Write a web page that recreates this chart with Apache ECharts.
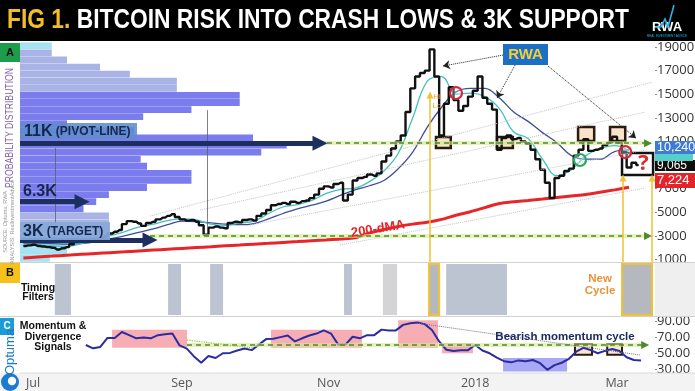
<!DOCTYPE html>
<html><head><meta charset="utf-8">
<script src="https://cdn.jsdelivr.net/npm/echarts@6/dist/echarts.min.js"></script>
<style>html,body{margin:0;padding:0;background:#fff;}#c{width:695px;height:391px;}</style>
</head><body><div id="c"></div>
<script>
// ================= DATA =================
// Bitcoin price (closes, one value every 2 days)
const priceStart = '2017-06-27';
const priceStepDays = 2;
const priceValues = [
  2150,2200,2250,2150,2100,2050,2000,1850,1950,2050,
  2300,2600,2700,2650,2700,2750,2850,3000,3200,3350,
  3500,4000,4250,4200,4050,3850,4100,4200,4400,4550,
  4700,4850,4600,4400,4300,4350,4200,3900,3100,3700,
  3800,3700,3650,4100,4200,4150,4350,4400,4300,4700,
  4900,5200,5600,5700,5800,5700,5900,5800,5950,6000,
  6200,6500,7000,7200,7100,7400,7500,6000,6500,7700,
  7900,8000,8200,8100,8300,9300,9800,10400,11000,11500,
  13500,15500,16500,16800,17000,18800,16500,11500,14200,15600,
  14500,13600,14000,14800,15300,16500,14700,14200,13700,10300,
  11300,11500,11200,11300,11000,10800,10300,9500,8600,7500,
  6200,7900,8100,8500,8700,9800,10300,11200,10200,10300,
  10400,10700,10900,11400,10900,10100,8800,9200,9000
];
// Moving averages (one value every 6 days)
const maStart = '2017-06-27';
const maStepDays = 6;
const maFastValues = [
  2200,2250,2150,2100,2350,2650,3000,3350,3750,4000,
  4300,4450,4350,4000,3900,4100,4250,4900,5450,5650,
  6000,6600,6950,7050,7600,8500,10000,13000,16100,16500,
  15000,15100,14800,13800,11800,11250,9500,8100,8600,9800,
  10400,10650,10200
];
const maSlowValues = [
  2400,2400,2350,2300,2350,2500,2750,3000,3300,3600,
  3950,4250,4200,4100,4000,3950,4050,4450,4900,5300,
  5600,5950,6450,6900,7250,7700,8700,10100,12200,13900,
  15200,15500,15500,14700,13500,12700,11750,10900,9800,9500,
  9500,10150,10280
];
const ma200Values = [
  1130,1220,1290,1370,1440,1510,1580,1650,1730,1800,
  1870,1940,2010,2080,2160,2230,2300,2370,2450,2520,
  2590,2660,2740,2850,3250,3550,3800,4000,4150,4400,
  4750,5050,5400,5750,5900,6000,6120,6250,6380,6500,
  6700,6900,7120
];
// Momentum (one value every 3 days)
const momStart = '2017-07-23';
const momStepDays = 3;
const momValues = [
  60.5,56.3,58,69.5,69.5,77,73,69,70,69,
  73,74,75,60,56,46,38,46.5,44,50,
  50.5,53.5,56,54,61,68,68.5,70.5,72.5,65,
  69,72.5,75,79,75,61,61,71,69,73,
  73,80,79,79,86,88,89,87,79.5,65,
  54.5,53,54,54,60.5,53.5,50,44.5,40,38.5,
  41,40,41.5,37.5,29,35,38,43,52,57,
  54,50,53,55.5,53,45,41.5,41
];
// Probability distribution (price profile), bins of 600 from 800
const profileBinStart = 800;
const profileBinSize = 600;
const profileLengths = [
  4.7,7.4,7.4,14,14,14,14,10,12,14,
  20,27,27,20,19,38,42,36.7,18,7.4,
  19.4,27,34.6,34.6,24.7,24.7,17.3,12.6,7.4,5,5
];
// Axis ticks
const priceTicks = [1000,3000,5000,7000,9000,11000,13000,15000,17000,19000];
const momTicks = [30,50,70,90];
const monthTickDates = ['2017-07-01','2017-09-01','2017-11-01','2018-01-01','2018-03-01'];
const monthTickLabels = ['Jul','Sep','Nov','2018','Mar'];
// Levels
const pivotLevel = 10850, targetLevel = 3000, momPivot = 60.5;
const tagLabels = ['10,240','9,065','7,224'];
// Timing filter windows
const timingBands = [
  ['2017-07-10T02:00','2017-07-16T19:00'],
  ['2017-08-26T05:00','2017-08-31T14:00'],
  ['2017-09-12T17:00','2017-09-18T02:00'],
  ['2017-11-07T10:00','2017-11-10T17:00']
];
const timingBandsLight = [['2017-11-23T14:00','2017-11-29T12:00']];
const timingBandsWide = [['2017-12-19T22:00','2018-01-14T05:00']];
const timingBandsMarked = [['2017-12-12T19:00','2017-12-17T00:00'],['2018-03-03T02:00','2018-03-15T14:00']];
// Momentum divergence zones [start, end, top, bottom]
const bullZones = [
  ['2017-08-02T22:00','2017-09-03T02:00',80,57],
  ['2017-10-08T00:00','2017-11-14T22:00',80,57],
  ['2017-11-29T22:00','2017-12-16T12:00',92,57],
  ['2017-12-18T05:00','2017-12-31T02:00',63,50]
];
const bearZones = [['2018-01-12T14:00','2018-02-08T05:00',44,27]];

// ================= HELPERS =================
const DAY = 864e5;
const ts = s => typeof s === 'number' ? s : new Date(s.length <= 10 ? s + 'T00:00:00' : s).getTime();
const seq = (start, step, vals) => vals.map((v, i) => [ts(start) + i * step * DAY, v]);
const SEP1 = ts('2017-09-01');
const xMin = SEP1 - 67.4 * DAY, xMax = SEP1 + 196.8 * DAY;
const monthTickTs = monthTickDates.map(ts);

const profileCats = profileLengths.map((_, i) => String(profileBinStart + profileBinSize * (i + 0.5)));
const profileColor = p => {
  const lo = profileBinStart + p.dataIndex * profileBinSize;
  if (lo >= 18800 || lo < 2600) return '#a6e2f2';
  if (lo >= 5000 && lo < 15200) return '#7b7ced';
  return '#a9b3e6';
};

const seg = (t1, v1, t2, v2, lineStyle, s1 = 'none', s2 = 'none', ss = 8, endStyle) => {
  const end = {coord: [ts(t2), v2], symbol: s2, symbolSize: ss};
  if (endStyle) end.itemStyle = endStyle;
  return [{coord: [ts(t1), v1], symbol: s1, symbolSize: ss, lineStyle}, end];
};
const box = (t1, v1, t2, v2, itemStyle, extra = {}) =>
  [Object.assign({coord: [ts(t1), v1], itemStyle}, extra), {coord: [ts(t2), v2]}];

const navy = {color: '#1d2f5e', width: 5, type: 'solid'};
const pale = {color: 'rgba(214,234,140,0.6)', width: 4, type: 'solid'};
const dash = {color: '#4c8a2c', width: 1.5, type: [5, 4]};
const tealHead = {color: '#2a9db0'};
const yel = {color: '#f1c232', width: 1.5, type: 'solid'};
const dots = {color: '#222', width: 1, type: 'dotted'};
const fan = {color: '#c4c4c4', width: 1, type: 'dotted'};
const thin = {color: '#5a6070', width: 0.8, type: 'solid'};
const trendGray = {color: '#6f6f95', width: 1, type: 'dotted'};
const trendGreen = {color: '#9cc23c', width: 1.2, type: 'dotted'};
const peachBox = {color: 'rgba(245,190,140,0.45)', borderColor: '#2b1a0e', borderWidth: 2.5};

const F = '"Liberation Sans", Arial, sans-serif';

// text width measurement (to condense fonts to the reference widths)
const mctx = document.createElement('canvas').getContext('2d');
const measure = (text, font) => { mctx.font = font; return mctx.measureText(text).width; };

// ================= GRAPHICS (labels, frames) =================
const g = [];
const T = (x, y, text, font, fill, align = 'left', extra = {}) => g.push(Object.assign({
  type: 'text', x, y, silent: true, z: 100,
  style: {text, font, fill, align, verticalAlign: 'middle', textAlign: align, textVerticalAlign: 'middle'}
}, extra));
const R = (x, y, w, h, fill, z = 90, style = {}) => g.push({type: 'rect', silent: true, z, shape: {x, y, width: w, height: h}, style: Object.assign({fill}, style)});
const L = (x1, y1, x2, y2, stroke, w = 1, z = 95) => g.push({type: 'line', silent: true, z, shape: {x1, y1, x2, y2}, style: {stroke, lineWidth: w}});

// title bar
R(0, 0, 695, 41, '#000', 90);
const titleA = 'FIG 1.', titleB = 'BITCOIN RISK INTO CRASH LOWS & 3K SUPPORT';
const titleFont = 'bold 27px ' + F;
const titleW = measure(titleA + ' ' + titleB, titleFont);
g.push({type: 'text', x: 7, y: 21, z: 100, silent: true, scaleX: 622 / titleW, style: {
  text: '{a|' + titleA + '} {b|' + titleB + '}',
  font: titleFont, fill: '#fff', verticalAlign: 'middle', textVerticalAlign: 'middle',
  rich: {a: {fill: '#f2bd2c', color: '#f2bd2c', font: titleFont}, b: {fill: '#ffffff', color: '#ffffff', font: titleFont}}
}});
// RWA logo
T(667, 27, 'RWA', 'bold 13px ' + F, '#ffffff', 'center');
g.push({type: 'polyline', silent: true, z: 101, shape: {points: [[655, 27], [661, 27], [665, 19], [668, 27], [674, 5]]}, style: {stroke: '#27b6ea', lineWidth: 1.6, fill: null}});
T(667, 36, 'REAL INVESTMENT ADVICE', '3px ' + F, '#27b6ea', 'center');

// frames / separators
R(0, 373, 695, 18, '#f3f3f3', 1);
R(655, 263, 40, 53, '#efefef', 60);
L(0, 262.5, 695, 262.5, '#d2d2d2', 1, 61);
L(0, 316.5, 695, 316.5, '#d2d2d2', 1, 61);
L(20, 373, 695, 373, '#dcdcdc', 1, 61);

// panel letters
R(0, 43, 20, 19, '#1d9c4c', 90); T(10, 52.5, 'A', 'bold 11px ' + F, '#111', 'center');
R(0, 263, 20, 20, '#f5c11a', 90); T(10, 273, 'B', 'bold 11px ' + F, '#111', 'center');
R(0, 318, 14, 17, '#1c9bd7', 90); T(7, 326.5, 'C', 'bold 10px ' + F, '#fff', 'center');
const pdText = 'PROBABILITY DISTRIBUTION', pdFont = '11px ' + F;
T(10, 128, pdText, pdFont, '#7c5ea3', 'center', {rotation: Math.PI / 2, scaleX: 120 / measure(pdText, pdFont)});
T(5, 222, 'SOURCE: Optuma, RWA', '5.5px ' + F, '#9a9a9a', 'center', {rotation: Math.PI / 2});
T(12, 222, 'ANALYSIS: RealInvestmentAdvice', '5.5px ' + F, '#9a9a9a', 'center', {rotation: Math.PI / 2});
// Optuma logo
T(10, 352, 'Optuma', '13px ' + F, '#1a7bd0', 'center', {rotation: Math.PI / 2});
g.push({type: 'circle', silent: true, z: 100, shape: {cx: 10, cy: 382, r: 9}, style: {fill: '#1a7bd0'}});
g.push({type: 'circle', silent: true, z: 101, shape: {cx: 12, cy: 381, r: 4.2}, style: {fill: '#fff'}});

// level labels
R(20, 123, 117, 16, 'rgba(95,140,205,0.88)', 95);
g.push({type: 'text', x: 24, y: 131.5, z: 100, silent: true, style: {
  text: '{a|11K} {b|(PIVOT-LINE)}', font: 'bold 12px ' + F, fill: '#15264f', verticalAlign: 'middle', textVerticalAlign: 'middle',
  rich: {a: {font: 'bold 16px ' + F, fill: '#15264f', color: '#15264f'}, b: {font: 'bold 12px ' + F, fill: '#15264f', color: '#15264f'}}
}});
T(23, 192, '6.3K', 'bold 16px ' + F, '#15264f');
R(20, 222, 90, 18, 'rgba(135,168,216,0.92)', 95);
g.push({type: 'text', x: 23, y: 231.5, z: 100, silent: true, style: {
  text: '{a|3K} {b|(TARGET)}', font: 'bold 12px ' + F, fill: '#15264f', verticalAlign: 'middle', textVerticalAlign: 'middle',
  rich: {a: {font: 'bold 16px ' + F, fill: '#15264f', color: '#15264f'}, b: {font: 'bold 12px ' + F, fill: '#15264f', color: '#15264f'}}
}});
// RWA callout
R(503, 44, 45, 21, '#1b6fc4', 95);
T(525.5, 54.5, 'RWA', 'bold 15px ' + F, '#f4cf3a', 'center');
// 200-dMA label
T(378, 229, '200-dMA', 'bold 13px ' + F, '#e0262b', 'center', {rotation: 0.16});
T(437, 97, 'Hi', '8px ' + F, '#f0a040', 'center');
T(437, 106, 'Lo', '8px ' + F, '#f0a040', 'center');
// panel B / C texts
T(38, 288, 'Timing', 'bold 10.5px ' + F, '#111', 'center');
T(38, 297.5, 'Filters', 'bold 10.5px ' + F, '#111', 'center');
T(600, 279, 'New', 'bold 11.5px ' + F, '#e8943a', 'center');
T(600, 291, 'Cycle', 'bold 11.5px ' + F, '#e8943a', 'center');
T(53, 326, 'Momentum &', 'bold 10.5px ' + F, '#111', 'center');
T(53, 337, 'Divergence', 'bold 10.5px ' + F, '#111', 'center');
T(53, 347.5, 'Signals', 'bold 10.5px ' + F, '#111', 'center');
T(565, 337, 'Bearish momentum cycle', 'bold 11.5px ' + F, '#1b2a60', 'center');
// value tags on the price axis
R(655, 160, 40, 11, '#0d0d0d', 96); T(657, 165.5, tagLabels[1], '12px ' + F, '#fff', 'left', {z: 97});
R(655, 153, 38, 8, '#55d0c8', 98);
R(655, 141, 40, 13, '#3f7ad6', 99); T(657, 147.5, tagLabels[0], '12.5px ' + F, '#fff', 'left', {z: 100});
R(655, 173, 40, 15, '#e3242b', 99); T(657, 180.5, tagLabels[2], '13px ' + F, '#fff', 'left', {z: 100});

// ================= SERIES =================
const priceData = seq(priceStart, priceStepDays, priceValues);
const maFast = seq(maStart, maStepDays, maFastValues);
const maSlow = seq(maStart, maStepDays, maSlowValues);
const ma200 = seq(maStart, maStepDays, ma200Values);
const momData = seq(momStart, momStepDays, momValues);

const xTimeAxis = (gi, extra) => Object.assign({type: 'value', gridIndex: gi, min: xMin, max: xMax, show: false, splitLine: {show: false}}, extra || {});

const option = {
  animation: false,
  backgroundColor: '#ffffff',
  textStyle: {fontFamily: '"Open Sans", sans-serif'},
  grid: [
    {left: 20, top: 42.3, width: 635, height: 219.6, outerBoundsMode: 'none'},
    {left: 20, top: 42.3, width: 635, height: 219.6, outerBoundsMode: 'none'},
    {left: 20, top: 264, width: 635, height: 51, outerBoundsMode: 'none'},
    {left: 20, top: 317.8, width: 635, height: 55.2, outerBoundsMode: 'none'}
  ],
  xAxis: [
    xTimeAxis(0),
    {type: 'value', gridIndex: 1, min: 0, max: 100, show: false},
    xTimeAxis(2),
    xTimeAxis(3, {show: true, z: 10,
      axisLine: {show: false}, axisTick: {show: false}, splitLine: {show: false},
      axisLabel: {customValues: monthTickTs, color: '#555', fontSize: 12.5, fontFamily: '"Open Sans", sans-serif', margin: 4,
        formatter: v => {
          let best = 0;
          monthTickTs.forEach((t, i) => { if (Math.abs(t - v) < Math.abs(monthTickTs[best] - v)) best = i; });
          return monthTickLabels[best];
        }}})
  ],
  yAxis: [
    {type: 'value', gridIndex: 0, min: 800, max: 19400, position: 'right',
      axisLine: {show: false}, splitLine: {show: false},
      axisTick: {show: true, customValues: priceTicks, length: 2, lineStyle: {color: '#888'}},
      axisLabel: {customValues: priceTicks, formatter: v => String(v), color: '#333', fontSize: 13, fontFamily: '"Open Sans", sans-serif', margin: 2}},
    {type: 'category', gridIndex: 1, data: profileCats, show: false},
    {type: 'value', gridIndex: 2, min: 0, max: 1, show: false, splitLine: {show: false}},
    {type: 'value', gridIndex: 3, min: 25, max: 95, position: 'right',
      axisLine: {show: false}, splitLine: {show: false},
      axisTick: {show: true, customValues: momTicks, length: 2, lineStyle: {color: '#888'}},
      axisLabel: {customValues: momTicks, formatter: v => v.toFixed(2), color: '#333', fontSize: 13, fontFamily: '"Open Sans", sans-serif', margin: 2}}
  ],
  series: [
    // probability distribution
    {type: 'bar', xAxisIndex: 1, yAxisIndex: 1, data: profileLengths, barCategoryGap: '3%', z: 1, silent: true,
      itemStyle: {color: profileColor}},
    // back annotations: fan lines and profile markers
    {type: 'line', xAxisIndex: 0, yAxisIndex: 0, data: [], z: 2, silent: true,
      markLine: {silent: true, symbol: ['none', 'none'], label: {show: false}, animation: false, data: [
        seg('2017-08-18T17:00', 4685, '2018-03-15T14:00', 16030, fan),
        seg('2017-09-08T12:00', 5190, '2018-03-12T17:00', 13490, fan),
        seg('2017-09-29T07:00', 3920, '2018-03-12T17:00', 10270, fan),
        seg('2017-11-05T19:00', 2230, '2018-03-12T17:00', 7060, fan),
        seg('2017-07-10T02:00', 10440, '2017-07-10T02:00', 2650, thin),
        seg('2017-09-11T10:00', 13650, '2017-09-11T10:00', 3250, thin)
      ]}},
    // moving averages
    {type: 'line', xAxisIndex: 0, yAxisIndex: 0, data: ma200, showSymbol: false, smooth: 0.3, z: 3,
      lineStyle: {color: '#e8262a', width: 3}},
    {type: 'line', xAxisIndex: 0, yAxisIndex: 0, data: maSlow, showSymbol: false, smooth: 0.4, z: 3,
      lineStyle: {color: '#3d4d9c', width: 1.3}},
    {type: 'line', xAxisIndex: 0, yAxisIndex: 0, data: maFast, showSymbol: false, smooth: 0.4, z: 3,
      lineStyle: {color: '#45c0bc', width: 1.3}},
    // price
    {type: 'line', xAxisIndex: 0, yAxisIndex: 0, data: priceData, step: 'middle', showSymbol: false, z: 4,
      lineStyle: {color: '#111111', width: 2.4}},
    // front annotations
    {type: 'line', xAxisIndex: 0, yAxisIndex: 0, data: [], z: 5, silent: true,
      markLine: {silent: true, symbol: ['none', 'none'], label: {show: false}, animation: false, data: [
        seg('2017-10-27T14:00', pivotLevel, '2018-03-13T22:00', pivotLevel, pale),
        seg('2017-08-18T17:00', targetLevel, '2018-03-13T22:00', targetLevel, pale),
        seg('2017-10-27T14:00', pivotLevel, '2018-03-13T22:00', pivotLevel, dash, 'none', 'triangle', 8, tealHead),
        seg('2017-08-18T17:00', targetLevel, '2018-03-13T22:00', targetLevel, dash, 'none', 'triangle', 8, tealHead),
        seg(xMin, pivotLevel, '2017-10-28T10:00', pivotLevel, navy, 'none', 'triangle', 15),
        seg(xMin, 5900, '2017-07-21T10:00', 5900, navy, 'none', 'triangle', 15),
        seg(xMin, 2650, '2017-08-18T17:00', 2650, navy, 'none', 'triangle', 15),
        seg('2017-12-13T05:00', 14930, '2017-12-13T05:00', 800, yel, 'triangle', 'none', 7),
        seg('2018-03-03T12:00', 7900, '2018-03-03T12:00', 800, yel, 'triangle', 'none', 7),
        seg('2018-03-15T14:00', 7900, '2018-03-15T14:00', 800, yel, 'triangle', 'none', 7),
        seg('2018-01-12T14:00', 18320, '2017-12-18T14:00', 17390, dots, 'none', 'arrow', 7),
        seg('2018-01-17T14:00', 17470, '2018-01-10T02:00', 14680, dots, 'none', 'arrow', 7),
        seg('2018-01-31T07:00', 17390, '2018-03-08T22:00', 11280, dots, 'none', 'arrow', 7)
      ]},
      markArea: {silent: true, data: [
        box('2017-12-15T16:00', 11380, '2017-12-21T20:00', 10440, peachBox),
        box('2018-01-10T02:00', 11380, '2018-01-16T16:00', 10440, peachBox),
        box('2018-02-12T19:00', 12220, '2018-02-19T12:00', 11040, peachBox),
        box('2018-02-26T02:00', 12220, '2018-03-04T10:00', 11040, peachBox),
        box('2018-03-03T02:00', 10020, '2018-03-16T00:00', 8160,
          {color: 'rgba(255,255,255,0)', borderColor: '#111', borderWidth: 2.5},
          {name: '?', label: {show: true, position: 'inside', offset: [6, 0], color: '#e0282e', fontSize: 22, fontWeight: 'bold', formatter: '{b}'}})
      ]},
      markPoint: {silent: true, label: {show: false}, data: [
        {coord: [ts('2017-12-24'), 15100], symbol: 'circle', symbolSize: 12, itemStyle: {color: 'rgba(255,255,255,0.3)', borderColor: '#d3283a', borderWidth: 2.2}},
        {coord: [ts('2018-02-13T14:00'), 9430], symbol: 'circle', symbolSize: 12, itemStyle: {color: 'rgba(255,255,255,0.3)', borderColor: '#2aa860', borderWidth: 2.2}},
        {coord: [ts('2018-03-04T10:00'), 10100], symbol: 'circle', symbolSize: 12, itemStyle: {color: 'rgba(255,255,255,0.3)', borderColor: '#d3283a', borderWidth: 2.2}}
      ]}},
    // panel B timing filters
    {type: 'line', xAxisIndex: 2, yAxisIndex: 2, data: [], z: 2, silent: true,
      markArea: {silent: true, data: [].concat(
        timingBands.map(b => [{xAxis: ts(b[0]), itemStyle: {color: '#bcc4d1'}}, {xAxis: ts(b[1])}]),
        timingBandsLight.map(b => [{xAxis: ts(b[0]), itemStyle: {color: '#d4d4d6'}}, {xAxis: ts(b[1])}]),
        timingBandsWide.map(b => [{xAxis: ts(b[0]), itemStyle: {color: '#bcc4d1'}}, {xAxis: ts(b[1])}]),
        timingBandsMarked.map(b => [{xAxis: ts(b[0]), itemStyle: {color: '#b5b8bf', borderColor: '#f1c232', borderWidth: 2}}, {xAxis: ts(b[1])}])
      )}},
    // panel C zones
    {type: 'line', xAxisIndex: 3, yAxisIndex: 3, data: [], z: 2, silent: true,
      markArea: {silent: true, data: [].concat(
        bullZones.map(z => box(z[0], z[2], z[1], z[3], {color: 'rgba(240,120,130,0.6)'})),
        bearZones.map(z => box(z[0], z[2], z[1], z[3], {color: 'rgba(110,110,240,0.6)'}))
      )},
      markLine: {silent: true, symbol: ['none', 'none'], label: {show: false}, animation: false, data: [
        seg('2017-09-03T02:00', momPivot, '2018-03-12T17:00', momPivot, pale),
        seg('2017-09-03T02:00', momPivot, '2018-03-12T17:00', momPivot, dash, 'none', 'triangle', 8, tealHead),
        seg('2017-12-07T19:00', 88.4, '2018-03-10T14:00', 47.8, trendGray),
        seg('2017-09-03T02:00', 66.8, '2017-09-30T12:00', 56.7, trendGreen)
      ]}},
    // momentum
    {type: 'line', xAxisIndex: 3, yAxisIndex: 3, data: momData, showSymbol: false, z: 4,
      lineStyle: {color: '#2c2ca0', width: 2}},
    // momentum boxes
    {type: 'line', xAxisIndex: 3, yAxisIndex: 3, data: [], z: 5, silent: true,
      markArea: {silent: true, data: [
        box('2018-02-11T12:00', 61.8, '2018-02-18T14:00', 48, {color: 'rgba(245,190,140,0.4)', borderColor: '#2b1a0e', borderWidth: 2}),
        box('2018-02-24T22:00', 61.8, '2018-03-03T02:00', 48, {color: 'rgba(245,190,140,0.4)', borderColor: '#2b1a0e', borderWidth: 2})
      ]}}
  ],
  graphic: {elements: g}
};

const chart = echarts.init(document.getElementById('c'), null, {renderer: 'canvas', width: 695, height: 391});
chart.setOption(option);
</script>
</body></html>
